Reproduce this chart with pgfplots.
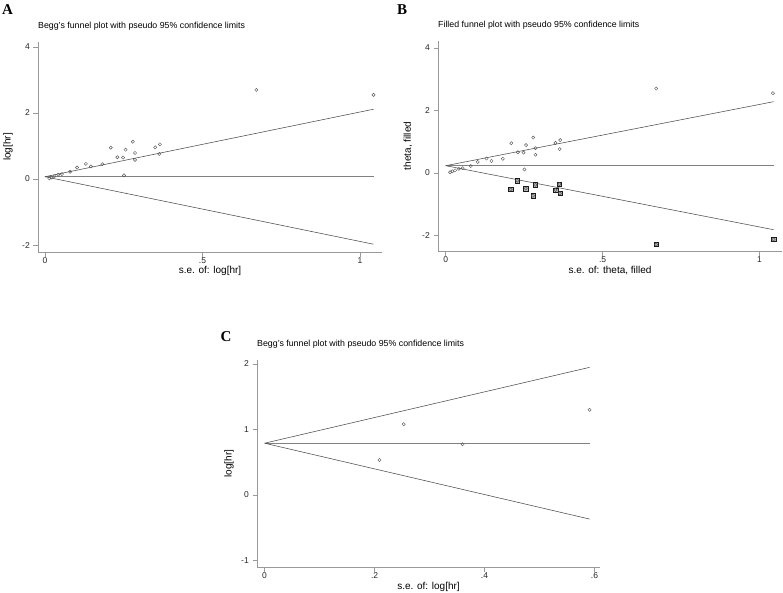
\documentclass[border=0pt]{standalone}
\usepackage{fontspec}
\setmainfont{Liberation Sans}
\newfontfamily\serifbf{Liberation Serif}
\usepackage{pgfplots}
\pgfplotsset{compat=1.18}
\definecolor{axgray}{gray}{0.6}
\definecolor{lngray}{gray}{0.3}
\definecolor{ctgray}{gray}{0.5}
\definecolor{mkgray}{gray}{0.35}

\pgfplotstableread{
x y
0.014 0.02
0.021 0.05
0.030 0.08
0.042 0.13
0.054 0.15
0.080 0.22
0.102 0.35
0.130 0.46
0.146 0.38
0.182 0.45
0.209 0.95
0.230 0.66
0.248 0.65
0.256 0.89
0.251 0.11
0.279 1.13
0.286 0.79
0.286 0.58
0.350 0.96
0.365 1.05
0.363 0.76
0.671 2.70
1.043 2.55
}\dataA

\pgfplotstableread{
x y
0.207 -0.53
0.228 -0.25
0.255 -0.50
0.278 -0.73
0.286 -0.38
0.350 -0.55
0.362 -0.36
0.364 -0.65
0.671 -2.29
1.045 -2.13
}\dataBfill

\pgfplotstableread{
x y
0.209 0.534
0.253 1.08
0.360 0.774
0.591 1.30
}\dataC

\pgfplotsset{
  stata/.style={
    scale only axis,
    axis lines*=left,
    axis line style={axgray, line width=0.7pt, -},
    tick align=outside,
    major tick length=4.5pt,
    tick style={axgray, line width=0.6pt},
    ticklabel style={font=\fontsize{8.5}{10}\selectfont, text=black!85},
    xticklabel style={inner sep=1pt},
    yticklabel style={inner sep=3.5pt},
    title style={font=\fontsize{8.8}{10}\selectfont, at={(0,1)}, anchor=base west, yshift=8pt, inner sep=0pt},
    label style={font=\fontsize{8.8}{10}\selectfont, text=black!85},
    clip=false,
    anchor=south west,
  },
  mk/.style={only marks, mark=o, mark size=1.6pt, mkgray, mark options={line width=0.45pt}},
}

\begin{document}
\begin{tikzpicture}
\path[use as bounding box] (0pt,-592pt) rectangle (783pt,0pt);

% Panel A
\begin{axis}[stata,
  at={(38pt,-252pt)}, width=344pt, height=210pt,
  xmin=-0.022, xmax=1.070, ymin=-2.21, ymax=4.15,
  xtick={0,0.5,1}, xticklabels={0,.5,1},
  ytick={-2,0,2,4}, yticklabels={-2,0,2,4},
  title={Begg's funnel plot with pseudo 95\% confidence limits},
  xlabel={s.e. of: log[hr]}, ylabel={log[hr]},
  every axis y label/.style={at={(axis description cs:-0.0872,0.5)}, rotate=90, anchor=center},
  every axis x label/.style={at={(axis description cs:0.5,-0.092)}, anchor=center, inner sep=0pt},
]
\addplot[ctgray, line width=0.8pt] coordinates {(0,0.07) (1.043,0.07)};
\addplot[lngray, line width=0.55pt] coordinates {(0,0.07) (1.043,2.114)};
\addplot[lngray, line width=0.55pt] coordinates {(0,0.07) (1.043,-1.974)};
\addplot[mk] table {\dataA};
\end{axis}

% Panel B
\begin{axis}[stata,
  at={(438pt,-251pt)}, width=344pt, height=210pt,
  xmin=-0.0246, xmax=1.072, ymin=-2.5, ymax=4.22,
  xtick={0,0.5,1}, xticklabels={0,.5,1},
  ytick={-2,0,2,4}, yticklabels={-2,0,2,4},
  title={Filled funnel plot with pseudo 95\% confidence limits},
  xlabel={s.e. of: theta, filled}, ylabel={theta, filled},
  every axis y label/.style={at={(axis description cs:-0.0872,0.5)}, rotate=90, anchor=center},
  every axis x label/.style={at={(axis description cs:0.5,-0.094)}, anchor=center, inner sep=0pt},
]
\addplot[ctgray, line width=0.8pt] coordinates {(0,0.23) (1.045,0.23)};
\addplot[lngray, line width=0.55pt] coordinates {(0,0.23) (1.045,2.278)};
\addplot[lngray, line width=0.55pt] coordinates {(0,0.23) (1.045,-1.818)};
\addplot[only marks, mark=square*, mark size=2.2pt, mark options={fill=gray!55, draw=gray!20!black, line width=0.4pt}] table {\dataBfill};
\addplot[mk] table {\dataBfill};
\addplot[mk] table {\dataA};
\end{axis}

% Panel C
\begin{axis}[stata,
  at={(257pt,-567pt)}, width=343pt, height=207pt,
  xmin=-0.0138, xmax=0.610, ymin=-1.10, ymax=2.06,
  xtick={0,0.2,0.4,0.6}, xticklabels={0,.2,.4,.6},
  ytick={-1,0,1,2}, yticklabels={-1,0,1,2},
  title={Begg's funnel plot with pseudo 95\% confidence limits},
  xlabel={s.e. of: log[hr]}, ylabel={log[hr]},
  every axis y label/.style={at={(axis description cs:-0.0816,0.5)}, rotate=90, anchor=center},
  every axis x label/.style={at={(axis description cs:0.5,-0.095)}, anchor=center, inner sep=0pt},
]
\addplot[ctgray, line width=0.8pt] coordinates {(0,0.79) (0.591,0.79)};
\addplot[lngray, line width=0.55pt] coordinates {(0,0.79) (0.591,1.948)};
\addplot[lngray, line width=0.55pt] coordinates {(0,0.79) (0.591,-0.368)};
\addplot[mk] table {\dataC};
\end{axis}

\node[font=\serifbf\bfseries\fontsize{15}{15}\selectfont, anchor=north west, inner sep=0pt] at (2pt,-4pt) {A};
\node[font=\serifbf\bfseries\fontsize{15}{15}\selectfont, anchor=north west, inner sep=0pt] at (397pt,-4pt) {B};
\node[font=\serifbf\bfseries\fontsize{15}{15}\selectfont, anchor=north west, inner sep=0pt] at (220.5pt,-331pt) {C};
\end{tikzpicture}
\end{document}
